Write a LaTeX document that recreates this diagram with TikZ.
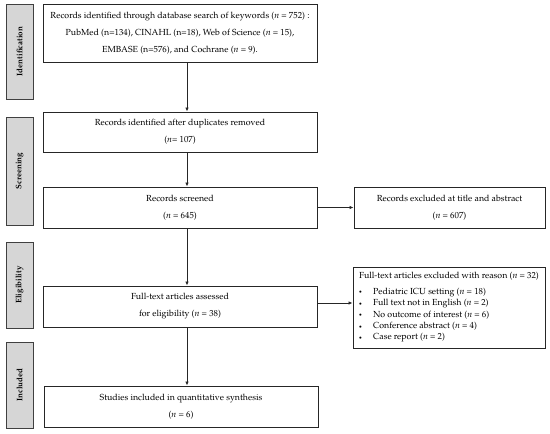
\documentclass[tikz,border=0pt]{standalone}
\usepackage[T1]{fontenc}
\usepackage{mathpazo}
\usetikzlibrary{arrows.meta}
\newcommand{\smbul}{\makebox[14pt][l]{\raisebox{0.5pt}{\scalebox{0.6}{$\bullet$}}}}
\begin{document}
\begin{tikzpicture}[x=1pt,y=-1pt,
  box/.style={draw=black!85,line width=0.9pt,fill=white,inner sep=2pt,align=center,font=\fontsize{8.8}{17}\selectfont},
  side/.style={draw=black!75,line width=0.9pt,fill=black!16,minimum width=27pt},
  sidetext/.style={rotate=90,font=\fontsize{8}{10}\selectfont\bfseries},
  arr/.style={draw=black!85,line width=0.8pt,-{Latex[length=4pt,width=3.5pt]}}]
\useasboundingbox (0,0) rectangle (550,434);
% side labels
\node[side,minimum height=95pt] (s1) at (19.5,51.5) {};
\node[sidetext] at (s1) {Identification};
\node[side,minimum height=108pt] (s2) at (19.5,171) {};
\node[sidetext] at (s2) {Screening};
\node[side,minimum height=86pt] (s3) at (19.5,285) {};
\node[sidetext] at (s3) {Eligibility};
\node[side,minimum height=86pt] (s4) at (19.5,385) {};
\node[sidetext] at (s4) {Included};
% main boxes
\node[box,minimum width=274pt,minimum height=58pt] (b1) at (180,33)
  {Records identified through database search of keywords (\textit{n} = 752) :\\
   PubMed (n=134), CINAHL (n=18), Web of Science (\textit{n} = 15),\\
   EMBASE (n=576), and Cochrane (\textit{n} = 9).};
\node[box,minimum width=274pt,minimum height=40pt] (b2) at (180,132)
  {Records identified after duplicates removed\\(\textit{n}= 107)};
\node[box,minimum width=274pt,minimum height=41pt] (b3) at (180,207.5)
  {Records screened\\(\textit{n} = 645)};
\node[box,minimum width=191pt,minimum height=41pt] (e1) at (449.5,207.5)
  {Records excluded at title and abstract\\(\textit{n} = 607)};
\node[box,minimum width=274pt,minimum height=41pt] (b4) at (180,306.5)
  {Full-text articles assessed\\for eligibility (\textit{n} = 38)};
\node[box,minimum width=192pt,minimum height=81pt,align=left,font=\fontsize{8.8}{11.4}\selectfont,inner sep=3pt] (e2) at (449,307.5)
  {Full-text articles excluded with reason (\textit{n} = 32)\\[4pt]
   \smbul Pediatric ICU setting (\textit{n} = 18)\\
   \smbul Full text not in English (\textit{n} = 2)\\
   \smbul No outcome of interest (\textit{n} = 6)\\
   \smbul Conference abstract (\textit{n} = 4)\\
   \smbul Case report (\textit{n} = 2)};
\node[box,minimum width=274pt,minimum height=41pt] (b5) at (181,406.5)
  {Studies included in quantitative synthesis\\(\textit{n} = 6)};
% arrows
\draw[arr] (b1.south -| 187,0) -- (b2.north -| 187,0);
\draw[arr] (b2.south -| 187,0) -- (b3.north -| 187,0);
\draw[arr] (b3.south -| 187,0) -- (b4.north -| 187,0);
\draw[arr] (b4.south -| 187,0) -- (b5.north -| 187,0);
\draw[arr] (b3.east) -- (e1.west);
\draw[arr] (b4.east |- 0,303) -- (e2.west |- 0,303);
\end{tikzpicture}
\end{document}
